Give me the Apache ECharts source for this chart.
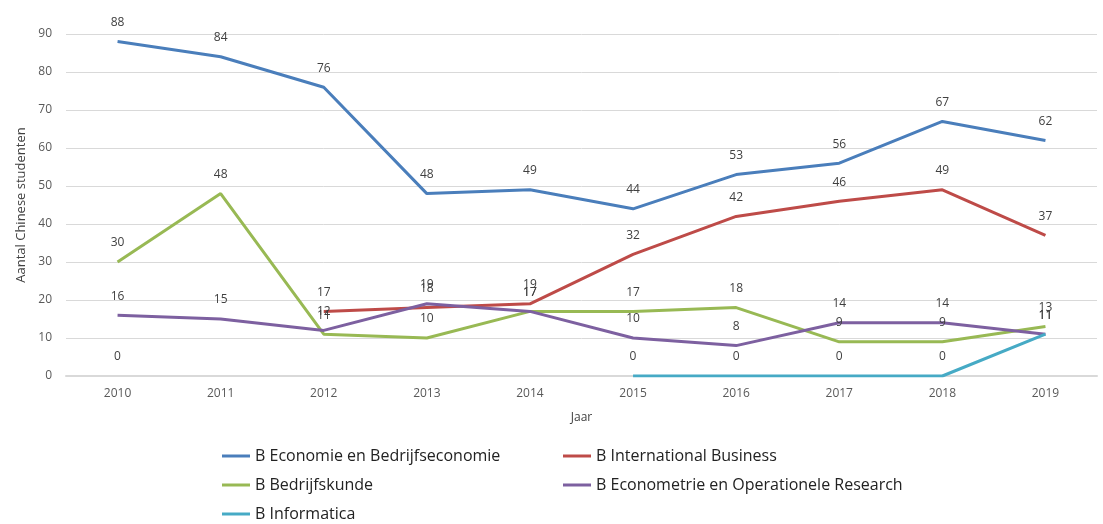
<!DOCTYPE html>
<html><head><meta charset="utf-8">
<script src="https://cdn.jsdelivr.net/npm/echarts@6/dist/echarts.min.js"></script>
<style>html,body{margin:0;padding:0;background:#fff}#c{width:1103px;height:524px}</style>
</head><body><div id="c"></div>
<script>
const years = ['2010','2011','2012','2013','2014','2015','2016','2017','2018','2019'];
const economie = [88,84,76,48,49,44,53,56,67,62];
const intBusiness = ['-','-',17,18,19,32,42,46,49,37];
const bedrijfskunde = [30,48,11,10,17,17,18,9,9,13];
const econometrie = [16,15,12,19,17,10,8,14,14,11];
const informatica = [0,'-','-','-','-',0,0,0,0,11];
const names = ['B Economie en Bedrijfseconomie','B International Business','B Bedrijfskunde','B Econometrie en Operationele Research','B Informatica'];
const colors = ['#4a7ebb','#be4b48','#98b954','#7d60a0','#46aac5'];
const dataSets = [economie,intBusiness,bedrijfskunde,econometrie,informatica];
const font = 'Open Sans';
const chart = echarts.init(document.getElementById('c'));
const legendText = {fontSize:16,color:'#222',fontFamily:font};
chart.setOption({
  animation:false,
  grid:{left:66,right:6,top:34,bottom:148},
  xAxis:{type:'category',data:years,boundaryGap:true,
    name:'Jaar',nameLocation:'middle',nameGap:36,
    nameTextStyle:{color:'#404040',fontSize:12,fontFamily:font},
    axisLine:{lineStyle:{color:'#d9d9d9',width:2}},axisTick:{show:false},
    axisLabel:{color:'#595959',fontSize:12,fontFamily:font,margin:12}},
  yAxis:{type:'value',min:0,max:90,interval:10,
    name:'Aantal Chinese studenten',nameLocation:'middle',nameGap:38,
    nameTextStyle:{color:'#404040',fontSize:13,fontFamily:font},
    axisLine:{show:false},axisTick:{show:false},
    splitLine:{lineStyle:{color:'#d9d9d9',width:1}},
    axisLabel:{color:'#595959',fontSize:12,fontFamily:font,margin:14}},
  legend:[
    {data:[names[0],names[2],names[4]],orient:'vertical',left:222,top:448,height:76,padding:0,itemGap:13,
     icon:'rect',itemWidth:28,itemHeight:3,textStyle:legendText},
    {data:[names[1],names[3]],orient:'vertical',left:563,top:448,height:76,padding:0,itemGap:13,
     icon:'rect',itemWidth:28,itemHeight:3,textStyle:legendText}
  ],
  series:dataSets.map((d,i)=>({
    name:names[i],type:'line',data:d,color:colors[i],
    symbol:'circle',symbolSize:0.1,showSymbol:true,connectNulls:false,
    lineStyle:{width:3,color:colors[i]},itemStyle:{color:colors[i]},
    label:{show:true,position:'top',distance:13,color:'#404040',fontSize:12,fontFamily:font},
    emphasis:{disabled:true}
  }))
});
</script></body></html>
